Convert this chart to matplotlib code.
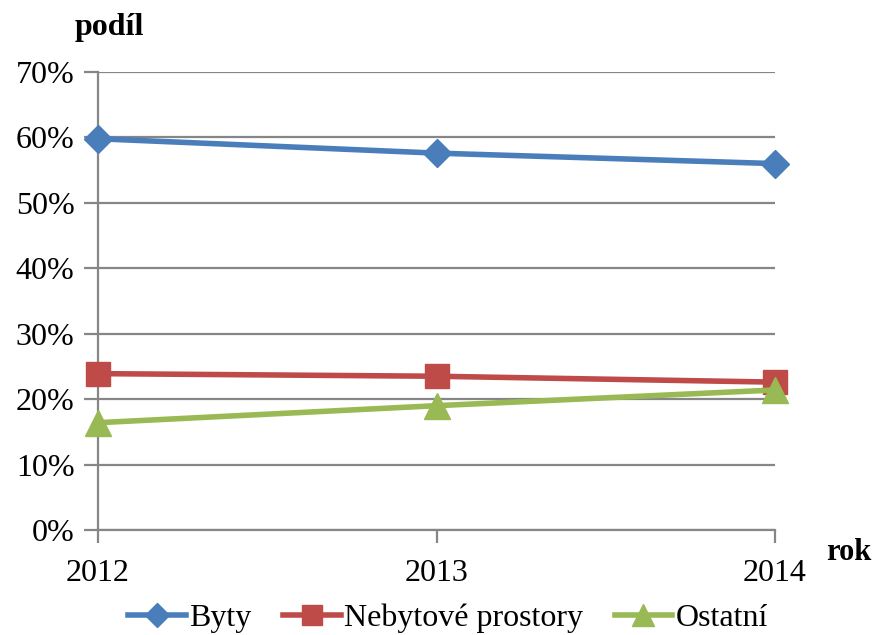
import matplotlib
matplotlib.use("Agg")
import matplotlib.pyplot as plt
from matplotlib.ticker import FuncFormatter

plt.rcParams['font.family'] = ['Liberation Serif', 'DejaVu Serif']

years = [2012, 2013, 2014]
byty = [59.8, 57.6, 56.0]
nebytove = [23.9, 23.5, 22.6]
ostatni = [16.4, 19.0, 21.4]
series_names = ["Byty", "Nebytové prostory", "Ostatní"]
y_ticks = [0, 10, 20, 30, 40, 50, 60, 70]

fig = plt.figure(figsize=(8.75, 6.35), dpi=100)
ax = fig.add_axes([98 / 875, 1 - 530 / 635, (775 - 98) / 875, (530 - 72) / 635])

grid_col = "#868686"
ax.plot(years, byty, color="#4A7EBB", lw=4, marker="D", ms=14, label=series_names[0],
        clip_on=False, zorder=5)
ax.plot(years, nebytove, color="#BE4B48", lw=4, marker="s", ms=17, label=series_names[1],
        clip_on=False, zorder=5)
ax.plot(years, ostatni, color="#98B954", lw=4, marker="^", ms=19, label=series_names[2],
        clip_on=False, zorder=6)

ax.set_xlim(2012, 2014)
ax.set_ylim(0, 70)
ax.set_xticks(years)
ax.set_xticklabels([str(y) for y in years])
ax.set_yticks(y_ticks)
ax.yaxis.set_major_formatter(FuncFormatter(lambda v, p: f"{v:.0f}%"))
ax.grid(axis="y", color=grid_col, lw=1.6)
ax.set_axisbelow(True)

for side in ("top", "right"):
    ax.spines[side].set_visible(False)
for side in ("left", "bottom"):
    ax.spines[side].set_color(grid_col)
    ax.spines[side].set_linewidth(1.6)
ax.tick_params(axis="y", length=10, width=1.6, color=grid_col, labelsize=23, pad=7)
ax.tick_params(axis="x", length=9, width=1.6, color=grid_col, labelsize=23, pad=12)

fig.text(75 / 875, 1 - 27 / 635, "podíl", fontsize=23, fontweight="bold", va="center", ha="left")
fig.text(826 / 875, 1 - 552 / 635, "rok", fontsize=22, fontweight="bold", va="center", ha="left")

fig.legend(loc="center", bbox_to_anchor=(0.512, 1 - 618 / 635), ncol=3, frameon=False,
           fontsize=23, handlelength=1.8, handletextpad=0.1, columnspacing=1.0,
           markerscale=0.85)

fig.savefig("out.png", dpi=100)
